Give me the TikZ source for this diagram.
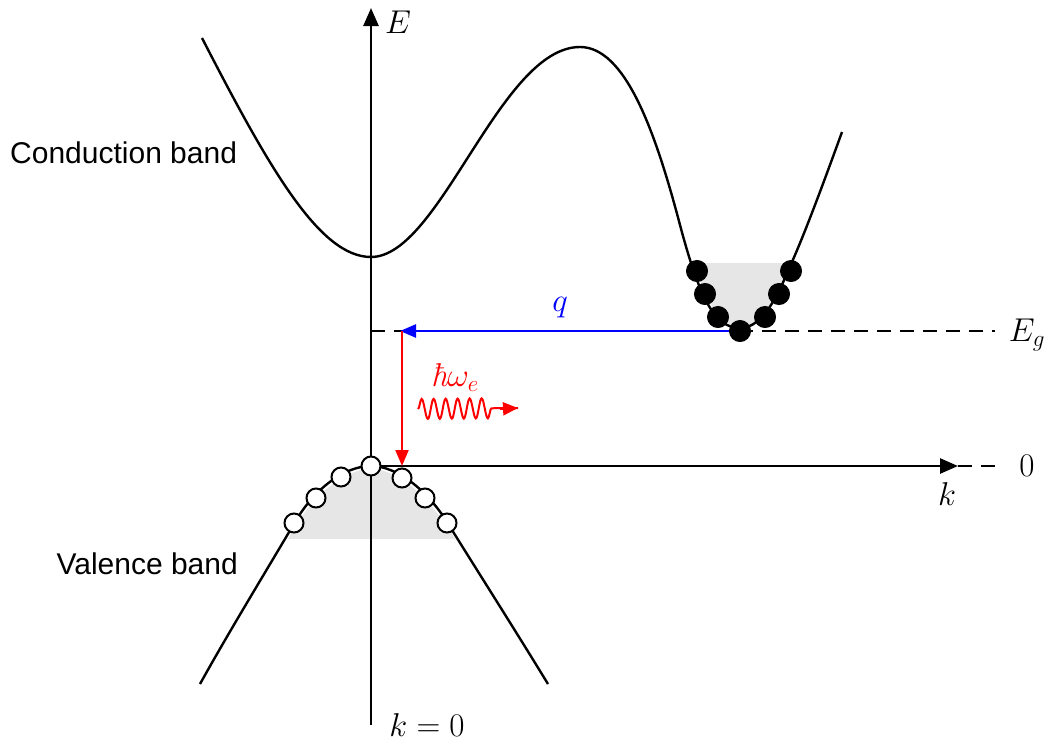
\documentclass[tikz,border=0pt]{standalone}
\usepackage{fix-cm}
\usepackage{fontspec}
\setsansfont{Liberation Sans}
\usetikzlibrary{arrows.meta,decorations.pathmorphing}
\definecolor{shadegray}{RGB}{230,230,230}
\begin{document}
\begin{tikzpicture}[x=1pt,y=-1pt,
  curve/.style={line width=2.4pt, line join=round},
  axis/.style={line width=2.6pt},
  dashline/.style={line width=2.2pt, dash pattern=on 14pt off 9pt},
  electron/.style={circle, fill=black, draw=black, line width=1pt, minimum size=21pt, inner sep=0pt},
  hole/.style={circle, fill=white, draw=black, line width=2pt, minimum size=19pt, inner sep=0pt},
  bandlbl/.style={font=\sffamily\fontsize{30}{36}\selectfont, inner sep=0pt},
  mathlbl/.style={font=\fontsize{33}{40}\selectfont, inner sep=0pt},
  arrowhd/.style={-{Triangle[length=18pt,width=15pt]}},
  smallhd/.style={-{Triangle[length=16pt,width=13pt]}},
]
\useasboundingbox (0,0) rectangle (1045,745);

% coordinates
\coordinate (O) at (371,466);
\coordinate (Ebot) at (371,725);
\coordinate (Etop) at (371,8);
\coordinate (kend) at (958,466);
\coordinate (kdash) at (995,466);
\coordinate (Egl) at (371,331);
\coordinate (Egr) at (995,331);
\coordinate (qstart) at (740,331);
\coordinate (qend) at (400,331);
\coordinate (rtop) at (402,331);
\coordinate (rbot) at (402,466);
\coordinate (wstart) at (418,409);
\coordinate (wend) at (518,408);

% grey fills
\fill[shadegray] (693,263) -- (705,294) -- (718,317) -- (740,331) -- (765,317) -- (779,294) -- (793,263) -- cycle;
\fill[shadegray] (288,539) -- (295,525) -- (316,498) -- (341,477) -- (371,466) -- (402,478) -- (425,498) -- (447,525) -- (455,539) -- cycle;

% dashed levels
\draw[dashline] (Egl) -- (Egr);
\draw[dashline] (kend) -- (kdash);

% conduction band
\draw[curve] (202,38) .. controls (270,170) and (320,257) .. (371,257)
  .. controls (440,257) and (500,47) .. (580,47)
  .. controls (625,47) and (655,130) .. (680,225)
  .. controls (700,300) and (715,328) .. (740,328)
  .. controls (765,328) and (780,290) .. (795,255)
  .. controls (810,220) and (830,165) .. (842,132);
% valence band
\draw[curve] (200,684) .. controls (230,630) and (265,573) .. (295,522)
  .. controls (315,488) and (345,466) .. (371,466)
  .. controls (397,466) and (427,490) .. (447,522)
  .. controls (480,575) and (515,630) .. (548,684);

% axes
\draw[axis, arrowhd] (Ebot) -- (Etop);
\draw[axis, arrowhd] (O) -- (kend);

% transitions
\draw[blue, line width=2.5pt, smallhd] (qstart) -- (qend);
\draw[red, line width=2.2pt, smallhd] (rtop) -- (rbot);
\draw[red, line width=2pt, decorate, decoration={snake, amplitude=10pt, segment length=12pt, post length=22pt}] (wstart) -- (wend);
\draw[red, line width=2pt, -{Triangle[length=15pt,width=13pt]}] (500,409) -- (wend);

% electrons
\node[electron] (e1) at (697,271) {};
\node[electron] (e2) at (705,294) {};
\node[electron] (e3) at (718,317) {};
\node[electron] (e4) at (740,331) {};
\node[electron] (e5) at (765,317) {};
\node[electron] (e6) at (779,294) {};
\node[electron] (e7) at (791,271) {};

% holes
\node[hole] (h1) at (294,523) {};
\node[hole] (h2) at (316,498) {};
\node[hole] (h3) at (341,477) {};
\node[hole] (h4) at (371,466) {};
\node[hole] (h5) at (402,478) {};
\node[hole] (h6) at (425,498) {};
\node[hole] (h7) at (447,523) {};

% labels
\node[bandlbl, anchor=west] (cb) at (10,153) {Conduction band};
\node[bandlbl, anchor=east] (vb) at (238,564) {Valence band};
\node[mathlbl] (El) at (398,22) {$E$};
\node[mathlbl] (Egl2) at (1027,335) {$E_g$};
\node[mathlbl] (zero) at (1027,466) {$0$};
\node[mathlbl] (kl) at (947,494) {$k$};
\node[mathlbl] (k0) at (427,725) {$k=0$};
\node[mathlbl, text=blue] (ql) at (560,308) {$q$};
\node[mathlbl, text=red] (hw) at (455,378) {{\itshape ħ}$\omega_e$};
\end{tikzpicture}
\end{document}
